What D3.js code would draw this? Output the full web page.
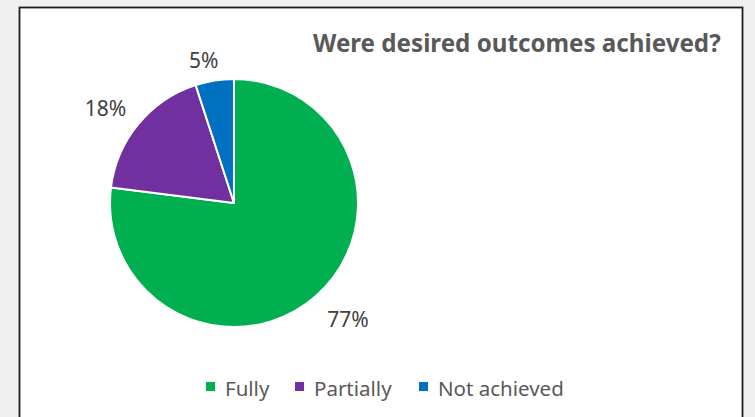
<!DOCTYPE html>
<html>
<head>
<meta charset="utf-8">
<script src="https://cdn.jsdelivr.net/npm/d3@7/dist/d3.min.js"></script>
<style>
  html, body { margin: 0; padding: 0; background: #f0f0f0; }
  svg { display: block; }
</style>
</head>
<body>
<script>
// Survey result: share of outcomes achieved
const categories = ["Fully", "Partially", "Not achieved"];
const values = [77, 18, 5];
const colors = ["#00B050", "#7030A0", "#0070C0"];
const title = "Were desired outcomes achieved?";

const W = 755, H = 417;
const font = "'Noto Sans', 'Open Sans', sans-serif";

const svg = d3.select("body").append("svg")
  .attr("width", W).attr("height", H);

// Background and chart frame
svg.append("rect").attr("width", W).attr("height", H).attr("fill", "#f0f0f0");
svg.append("rect")
  .attr("x", 19.5).attr("y", 7.5)
  .attr("width", 723).attr("height", H)
  .attr("fill", "#ffffff")
  .attr("stroke", "#1c1c1c").attr("stroke-width", 1.8);

// Title, sized to fill its slot
const titleText = svg.append("text")
  .attr("x", 313).attr("y", 52)
  .attr("font-family", font).attr("font-weight", "bold")
  .attr("font-size", 22).attr("fill", "#595959")
  .text(title);
const tw = titleText.node().getComputedTextLength();
titleText.attr("font-size", 22 * 408 / tw);

// Pie
const cx = 234, cy = 203, r = 124;
const pie = d3.pie().sort(null).value(d => d.value);
const arcs = pie(categories.map((c, i) => ({ name: c, value: values[i], color: colors[i] })));
const arc = d3.arc().innerRadius(0).outerRadius(r);

const g = svg.append("g").attr("transform", `translate(${cx},${cy})`);
g.selectAll("path").data(arcs).join("path")
  .attr("d", arc)
  .attr("fill", d => d.data.color)
  .attr("stroke", "#ffffff").attr("stroke-width", 2).attr("stroke-linejoin", "round");

// Data labels placed outside the slices, just counter-clockwise of their mid-angle
const labelRadius = [163, 160, 146];
const labelShift = -3 * Math.PI / 180;
g.selectAll("text.lbl").data(arcs).join("text")
  .attr("class", "lbl")
  .attr("font-family", font).attr("font-size", 21).attr("fill", "#404040")
  .attr("text-anchor", "middle").attr("dominant-baseline", "central")
  .attr("transform", (d, i) => {
    const a = (d.startAngle + d.endAngle) / 2 + labelShift;
    const lr = labelRadius[i];
    return `translate(${Math.sin(a) * lr},${-Math.cos(a) * lr})`;
  })
  .text(d => d.data.value + "%");

// Legend
const legendX = [206, 295, 419];
const lg = svg.append("g");
categories.forEach((c, i) => {
  lg.append("rect")
    .attr("x", legendX[i]).attr("y", 382)
    .attr("width", 9).attr("height", 9)
    .attr("fill", colors[i]);
  lg.append("text")
    .attr("x", legendX[i] + 19).attr("y", 396)
    .attr("font-family", font).attr("font-size", 20.5).attr("fill", "#595959")
    .text(c);
});
</script>
</body>
</html>
